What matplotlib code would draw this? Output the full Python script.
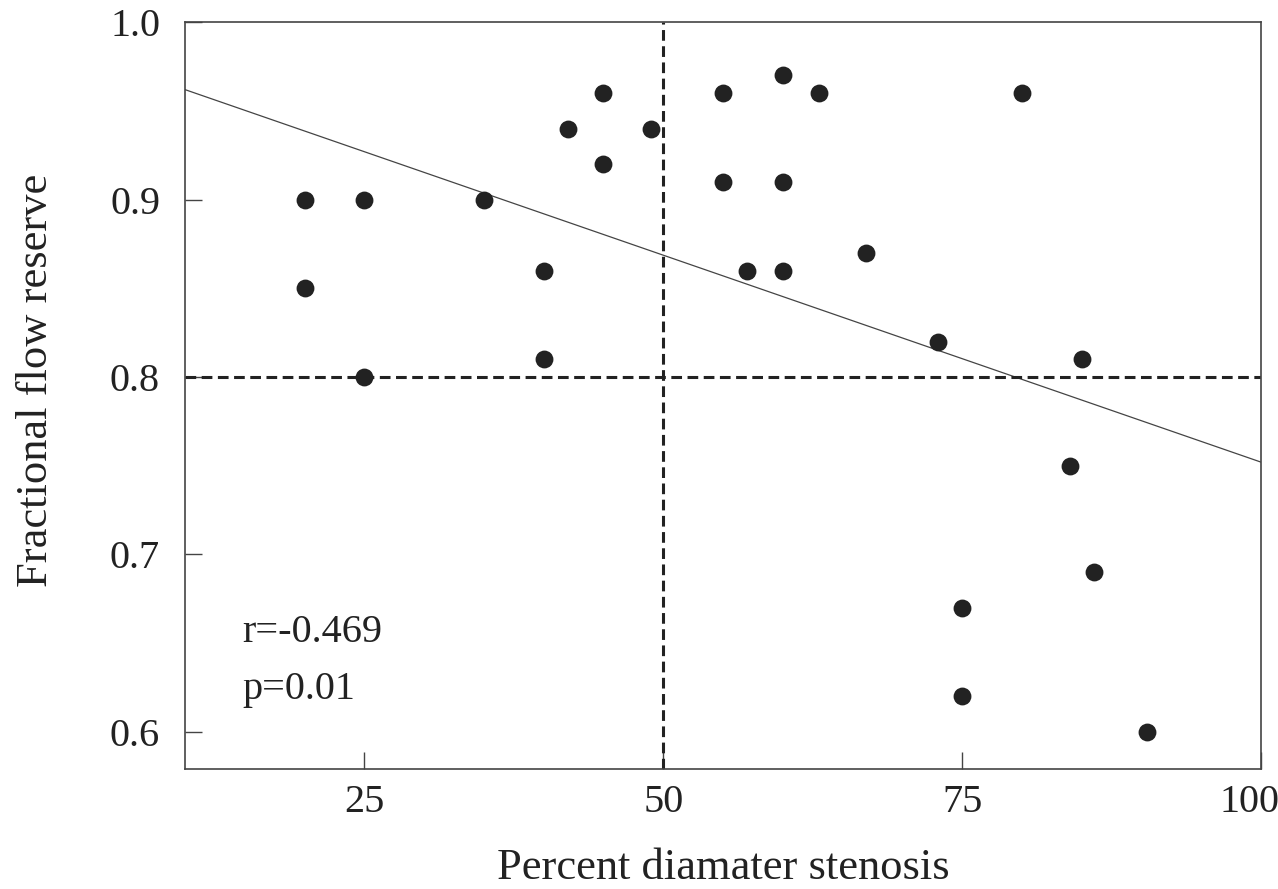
import matplotlib
matplotlib.use("Agg")
import matplotlib.pyplot as plt
from matplotlib.transforms import ScaledTranslation

# data
stenosis = [20, 20, 25, 25, 35, 40, 40, 42, 45, 45, 49, 55, 55, 57, 60, 60, 60,
            63, 67, 73, 80, 85, 84, 86, 75, 75, 90.5]
ffr = [0.90, 0.85, 0.90, 0.80, 0.90, 0.86, 0.81, 0.94, 0.96, 0.92, 0.94, 0.96,
       0.91, 0.86, 0.97, 0.91, 0.86, 0.96, 0.87, 0.82, 0.96, 0.81, 0.75, 0.69,
       0.67, 0.62, 0.60]
fit_x = [10, 100]
fit_y = [0.962, 0.752]
x_ticks = [25, 50, 75, 100]
y_ticks = [0.6, 0.7, 0.8, 0.9, 1.0]

plt.rcParams['font.family'] = ['Liberation Serif', 'DejaVu Serif']

fig = plt.figure(figsize=(12.78, 8.89), dpi=100)
ax = fig.add_axes([0.1448, 0.135, 0.8419, 0.840])

ax.plot(fit_x, fit_y, color='#444444', lw=0.9, zorder=2)
ax.axvline(50, color='#222222', lw=2.2, ls=(0, (3.5, 1.8)), zorder=2)
ax.axhline(0.8, color='#222222', lw=2.2, ls=(0, (3.5, 1.8)), zorder=2)
ax.scatter(stenosis, ffr, s=165, color='#222222', zorder=3, linewidths=0)

ax.set_xlim(10, 100)
ax.set_ylim(0.579, 1.0)
ax.set_xticks(x_ticks)
ax.set_yticks(y_ticks)
ax.set_yticklabels([f"{v:.1f}" for v in y_ticks])
ax.tick_params(direction='in', length=12, width=1, color='#444444',
               labelsize=29, labelcolor='#222222', pad=18)
ax.tick_params(axis='x', pad=11)
for sp in ax.spines.values():
    sp.set_color('#444444')
    sp.set_linewidth(1.2)

# last x label sits a little left of its tick, as in the reference
last = ax.get_xticklabels()[-1]
last.set_transform(last.get_transform() + ScaledTranslation(-0.12, 0, fig.dpi_scale_trans))

ax.text(14.8, 0.656, 'r=-0.469', fontsize=29, color='#222222', va='center', ha='left')
ax.text(14.8, 0.624, 'p=0.01', fontsize=29, color='#222222', va='center', ha='left')

ax.set_xlabel('Percent diamater stenosis', fontsize=32, color='#222222', labelpad=19)
ax.set_ylabel('Fractional flow reserve', fontsize=32, color='#222222')
ax.yaxis.set_label_coords(-0.12, 0.52)

fig.savefig('out.png', dpi=100)
